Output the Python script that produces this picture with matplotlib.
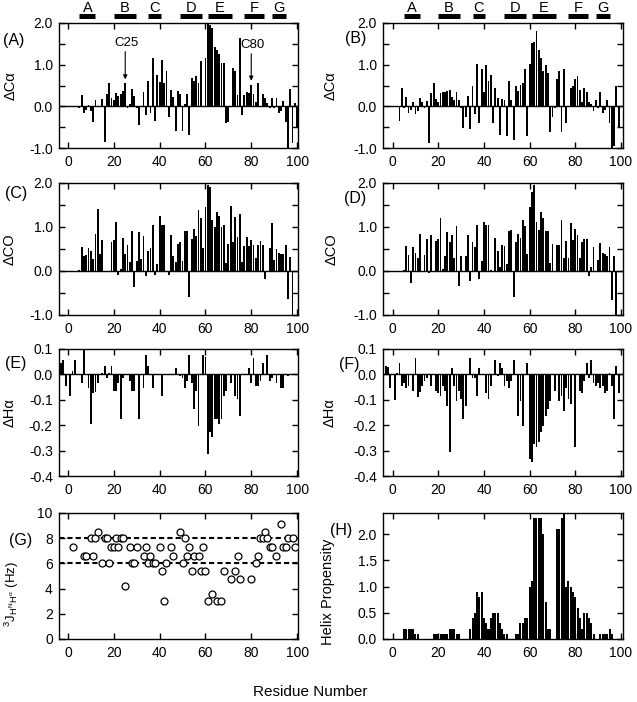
import matplotlib
matplotlib.use('Agg')
import matplotlib.pyplot as plt
import matplotlib.transforms as mtransforms
from matplotlib.ticker import MultipleLocator, FormatStrFormatter

plt.rcParams['font.family'] = ['Liberation Sans', 'DejaVu Sans']
plt.rcParams['mathtext.fontset'] = 'custom'
plt.rcParams['mathtext.rm'] = 'Liberation Sans'
plt.rcParams['mathtext.it'] = 'Liberation Sans'
plt.rcParams['mathtext.bf'] = 'Liberation Sans:bold'
plt.rcParams['axes.unicode_minus'] = False

# ---------------- data ----------------
# Panel A: delta C-alpha (left)
a_res = list(range(5, 13)) + list(range(15, 32)) + list(range(33, 71)) + list(range(72, 101))
a_val = [-0.05, 0.27, -0.15, -0.08, 0.03, -0.1, -0.38, 0.15,
         0.18, -0.85, 0.3, 0.55, 0.2, 0.15, 0.33, 0.25, 0.3, 0.38, 0.55, -0.05, 0.05, 0.42, 0.25, -0.05, -0.45,
         0.35, -0.2, 0.6, -0.15, 1.15, -0.35, 0.75, 0.58, 1.12, 0.55, 0.85, -0.25, 0.4, 0.22, -0.6, 0.38, 0.3,
         -0.6, 0.05, 0.3, -0.68, 0.68, 0.6, 0.72, 0.55, 1.1, 0.0, 1.15, 2.0, 1.95, 1.88, 1.42, 1.35, 1.25,
         1.05, 1.05, -0.4, -0.38,
         0.92, 0.85, 0.28, 1.65, -0.2, 0.27, 0.35, 0.33, 0.52, 0.3, 0.1, 0.55, 0.0, 0.3, 0.2, 0.08, -0.05,
         0.2, -0.05, 0.2, -0.15, -0.12, 0.13, -0.38, -1.0, 0.42, -0.88, 0.08, -0.5]

# Panel B: delta C-alpha (right)
b_res = list(range(3, 77)) + list(range(78, 100))
b_val = [-0.35, 0.43, -0.05, 0.23, -0.15, -0.08, 0.1, -0.18, -0.1, 0.2, 0.1, -0.05, 0.12, -0.87, 0.32,
         0.55, 0.18, 0.1, 0.32, 0.35, 0.35, 0.38, 0.4, 0.22, 0.15, 0.35, 0.15, -0.05, -0.53, -0.25, 0.25,
         -0.55, 0.5, -0.18, 1.02, -0.4, 0.9, 0.35, 1.0, 0.62, 0.75, -0.4, 0.45, 0.2, -0.68, 0.18, 0.15,
         -0.72, 0.6, 0.15, -0.8, 0.5, 0.38, 0.52, 0.55, 0.9, -0.7, 1.02, 1.52, 1.55, 1.8, 1.35, 1.15, 0.85,
         1.0, 0.8, -0.62, -0.25, -0.05, 0.65, 0.85, -0.62, 0.9, -0.4,
         0.45, 0.5, 0.65, 0.72, 0.4, 0.1, 0.45, 0.35, 0.1, 0.05, -0.1, 0.15, -0.05, 0.35, -0.15, -0.08,
         0.15, -0.4, -1.0, -0.95, 0.5, -0.5]

# Panel C: delta CO (left)
c_res = list(range(5, 16)) + list(range(19, 87)) + list(range(88, 99))
c_val = [0.03, 0.55, 0.35, 0.37, 0.52, 0.45, 0.28, 0.85, 1.42, 0.38, 0.7,
         0.67, 0.7, 1.12, -0.1, 0.05, 0.75, 0.38, 0.6, 0.2, 0.92, -0.37, 0.22, 0.88, 0.28, 0.8, -0.12,
         0.45, 0.52, 1.05, -0.1, 0.15, 1.25, 1.05, 1.05, 0.0, -0.08, 0.82, 0.35, 0.2, 0.62, 0.65, 0.22,
         0.92, 0.92, -0.58, 0.72, 0.95, 0.8, 1.38, 1.2, 0.52, 1.45, 1.95, 1.92, 1.15, 1.0, 1.35, 1.25,
         1.0, 1.05, 0.18, 0.62, 1.48, 0.65, 1.22, 0.78, 1.3, 0.2, 0.57, 0.78, 0.57, 0.7, 0.6, 0.3, 0.6,
         0.68, 0.6, -0.18,
         0.52, 1.1, 0.25, 0.5, 0.4, 0.38, 0.38, 0.6, -0.63, 0.32, -1.0]

# Panel D: delta CO (right)
d_res = (list(range(5, 13)) + list(range(14, 18)) + list(range(19, 31)) + list(range(32, 44))
         + list(range(45, 71)) + list(range(72, 89)) + list(range(90, 99)))
d_val = [0.02, 0.56, 0.37, -0.27, 0.55, 0.42, 0.3, 0.83,
         0.37, 0.72, -0.05, 0.82,
         0.68, 0.73, 1.2, 0.05, 0.33, 0.88, 0.67, 0.82, 0.3, 1.03, -0.33, 0.35,
         0.33, 0.82, -0.22, 0.65, 0.55, 1.05, -0.18, 0.23, 1.12, 1.05, 1.05, 0.03,
         0.75, 0.45, 0.1, 0.58, 0.57, 0.15, 0.9, 0.93, -0.58, 0.65, 0.85, 0.75, 1.15, 1.02, 0.38, 1.45,
         1.8, 1.95, 1.12, 0.93, 1.35, 1.2, 0.9, 0.92, 0.18, 0.62,
         0.6, 0.6, 1.15, 0.3, 0.68, 0.3, 1.08, 0.7, 0.95, 0.82, 0.3, 0.65, 0.72, 0.72, -0.12, 0.1, 0.55,
         0.25, 0.63, 0.42, 0.38, 0.35, 0.55, -0.65, 0.33, -1.0]

# Panel E: delta H-alpha (left)
e_res = [-3, -2, -1, 1, 2, 3, 6, 7, 9, 10, 11, 12, 13, 15, 16, 17, 18, 19, 20, 21, 22, 23, 24, 27, 28,
         29, 31, 33, 34, 35, 37, 41, 47, 49, 50, 51, 52, 53, 54, 55, 56, 57, 59, 60, 61, 62, 63, 64, 65,
         66, 67, 68, 69, 71, 73, 74, 75, 79, 80, 81, 82, 83, 84, 85, 87, 88, 89, 91, 93, 94, 96]
e_val = [0.045, 0.055, -0.045, -0.085, 0.015, 0.055, -0.035, 0.1, -0.055, -0.195, -0.075, -0.07, -0.035,
         0.005, 0.035, -0.015, 0.005, 0.035, -0.065, -0.065, -0.035, -0.175, -0.015, -0.025, -0.065,
         -0.065, -0.175, -0.055, 0.075, 0.035, -0.055, -0.085, 0.025, -0.005, -0.015, -0.055, -0.025,
         0.075, -0.035, -0.135, -0.065, -0.205, 0.075, 0.07, -0.315, -0.225, -0.245, -0.175, -0.175,
         -0.195, -0.175, -0.085, -0.065, -0.035, -0.085, -0.095, -0.165, 0.025, -0.035, 0.065, -0.045,
         -0.045, -0.025, 0.045, 0.075, -0.025, -0.015, -0.035, -0.055, -0.055, -0.005]

# Panel F: delta H-alpha (right)
f_res = [-3, -2, -1, 1, 2, 3, 4, 5, 6, 7, 9, 10, 11, 12, 13, 14, 15, 17, 19, 20, 21, 22, 23, 24, 25,
         26, 27, 28, 29, 30, 31, 32, 34, 35, 36, 37, 38, 41, 42, 43, 45, 46, 47, 48, 49, 50, 51, 52, 53,
         55, 56, 57, 59, 60, 61, 62, 63, 64, 65, 66, 67, 68, 69, 71, 73, 74, 75, 76, 77, 78, 80, 82, 83,
         84, 85, 86, 87, 88, 89, 90, 91, 92, 93, 94, 95, 96, 97, 98, 99]
f_val = [0.035, 0.03, -0.055, -0.1, 0.005, 0.045, -0.045, -0.035, -0.055, -0.045, -0.065, 0.065, -0.09,
         -0.07, -0.045, -0.025, -0.015, -0.045, -0.065, -0.075, -0.085, -0.045, -0.065, -0.125, -0.305,
         0.025, -0.045, -0.105, -0.065, -0.095, -0.175, -0.125, 0.065, -0.015, -0.015, -0.085, 0.025,
         -0.075, -0.095, -0.045, 0.055, -0.005, 0.045, 0.025, -0.045, -0.025, -0.055, -0.025, 0.055,
         -0.165, -0.105, -0.205, 0.045, -0.335, -0.345, -0.275, -0.285, -0.265, -0.225, -0.205, -0.165,
         -0.135, -0.105, -0.065, -0.105, -0.085, -0.145, -0.055, -0.095, -0.115, -0.285, -0.065, -0.075,
         -0.025, 0.045, -0.015, 0.055, -0.035, -0.045, -0.035, -0.055, -0.045, -0.075, -0.065, 0.005,
         -0.045, -0.175, 0.035, -0.075]

# Panel G: 3J(HN-Halpha) coupling constants
g_res = [2, 7, 8, 10, 11, 12, 13, 15, 16, 17, 18, 19, 20, 21, 22, 23, 24, 25, 27, 28, 29, 30, 33, 34,
         35, 36, 37, 38, 40, 41, 42, 43, 45, 46, 49, 50, 51, 52, 53, 54, 55, 57, 58, 59, 60, 61, 63, 65,
         67, 68, 71, 73, 74, 75, 80, 82, 83, 84, 85, 86, 87, 88, 89, 91, 93, 94, 95, 96, 98, 99]
g_val = [7.3, 6.6, 6.6, 8.0, 6.6, 8.0, 8.5, 6.0, 8.0, 8.0, 6.0, 7.3, 7.3, 8.0, 7.3, 8.0, 8.0, 4.2, 7.3,
         6.0, 6.0, 7.3, 6.6, 7.3, 6.0, 6.6, 6.0, 6.0, 7.3, 5.4, 3.0, 6.0, 7.3, 6.6, 8.5, 6.0, 8.0, 6.6,
         7.3, 5.4, 6.6, 6.6, 5.4, 7.3, 5.4, 3.0, 3.6, 3.0, 3.0, 5.4, 4.8, 5.4, 6.6, 4.8, 4.8, 6.0, 6.6,
         8.0, 8.0, 8.5, 8.0, 7.3, 7.3, 6.6, 9.1, 7.3, 7.3, 8.0, 8.0, 7.3]
g_lines = [6.0, 8.0]

# Panel H: helix propensity
h_res = (list(range(5, 12)) + list(range(18, 30)) + list(range(34, 51)) + list(range(54, 70))
         + list(range(72, 89)) + list(range(91, 97)))
h_val = [0.2, 0.2, 0.2, 0.2, 0.2, 0.1, 0.1,
         0.1, 0.1, 0.1, 0.1, 0.1, 0.1, 0.1, 0.2, 0.2, 0.2, 0.1, 0.1,
         0.2, 0.4, 0.5, 0.9, 0.8, 0.9, 0.4, 0.3, 0.2, 0.4, 0.5, 0.5, 0.5, 0.3, 0.2, 0.1, 0.1,
         0.1, 0.1, 0.3, 0.3, 0.4, 0.4, 1.0, 1.1, 2.3, 2.3, 2.3, 2.3, 2.0, 0.7, 0.2, 0.2,
         2.1, 2.1, 2.3, 2.4, 1.0, 1.1, 1.0, 0.9, 0.8, 0.6, 0.4, 0.2, 0.5, 0.5, 0.4, 0.3, 0.1,
         0.1, 0.1, 0.1, 0.1, 0.2, 0.1]

# secondary-structure segments drawn above (A) and (B)
seg_names = ['A', 'B', 'C', 'D', 'E', 'F', 'G']
seg_start = [5, 20, 35, 49, 61, 77, 89]
seg_end = [12, 29.5, 40.5, 58.5, 71.5, 85.5, 95]

for r, v in [(a_res, a_val), (b_res, b_val), (c_res, c_val), (d_res, d_val), (e_res, e_val),
             (f_res, f_val), (g_res, g_val), (h_res, h_val)]:
    assert len(r) == len(v), (len(r), len(v))

# ---------------- figure ----------------
W, H = 637, 702
fig = plt.figure(figsize=(W / 100, H / 100), dpi=100)


def ax_at(x0, x1, y0, y1):
    return fig.add_axes([x0 / W, 1 - y1 / H, (x1 - x0) / W, (y1 - y0) / H])


def setup(ax, xlim, ylim, major, minor, fmt):
    ax.set_xlim(*xlim)
    ax.set_ylim(*ylim)
    ax.xaxis.set_major_locator(MultipleLocator(20))
    ax.yaxis.set_major_locator(MultipleLocator(major))
    if minor:
        ax.yaxis.set_minor_locator(MultipleLocator(minor))
    ax.yaxis.set_major_formatter(FormatStrFormatter(fmt))
    ax.tick_params(which='both', direction='in', top=True, right=True, length=4.6, width=1,
                   labelsize=10, pad=4.5)
    ax.tick_params(axis='x', pad=5)
    for s in ax.spines.values():
        s.set_linewidth(1)


def ftext(x, y, s, **kw):
    fig.text(x / W, 1 - y / H, s, ha='center', va='center', **kw)


LX = (-3.9, 100.4)
RX = (-4.2, 100.9)
COLL = (59, 298)
COLR = (383, 623)
ROW1 = (23, 148)
ROW2 = (183, 315)
ROW3 = (349, 476)
ROW4 = (513, 639)

bar_kw = dict(width=0.8, color='black', linewidth=0)

axA = ax_at(*COLL, *ROW1)
axA.bar(a_res, a_val, **bar_kw)
axB = ax_at(*COLR, *ROW1)
axB.bar(b_res, b_val, **bar_kw)
axC = ax_at(*COLL, *ROW2)
axC.bar(c_res, c_val, **bar_kw)
axD = ax_at(*COLR, *ROW2)
axD.bar(d_res, d_val, **bar_kw)
axE = ax_at(*COLL, *ROW3)
axE.bar(e_res, e_val, **bar_kw)
axF = ax_at(*COLR, *ROW3)
axF.bar(f_res, f_val, **bar_kw)
axG = ax_at(*COLL, *ROW4)
axG.plot(g_res, g_val, linestyle='none', marker='o', markersize=5.0, markerfacecolor='white',
         markeredgecolor='black', markeredgewidth=0.9, zorder=3)
for yl in g_lines:
    axG.axhline(yl, color='black', lw=1.5, linestyle=(0, (2.5, 1.5)), zorder=2)
axH = ax_at(*COLR, *ROW4)
axH.bar(h_res, h_val, width=0.88, color='black', linewidth=0)

for ax, xl in [(axA, LX), (axB, RX), (axC, LX), (axD, RX)]:
    setup(ax, xl, (-1.0, 2.0), 1.0, 0.5, '%.1f')
    ax.axhline(0, color='black', lw=1)
for ax, xl in [(axE, LX), (axF, RX)]:
    setup(ax, xl, (-0.4, 0.1), 0.1, None, '%.1f')
    ax.axhline(0, color='black', lw=1)
setup(axG, LX, (0, 10), 2, None, '%d')
setup(axH, RX, (0, 2.4), 0.5, None, '%.1f')

# C25 / C80 annotations
axA.text(25.5, 1.52, 'C25', ha='center', va='center', fontsize=9.5)
axA.annotate('', xy=(25, 0.58), xytext=(25, 1.38),
             arrowprops=dict(arrowstyle='-|>', lw=0.8, color='black', mutation_scale=6))
axA.text(80.5, 1.47, 'C80', ha='center', va='center', fontsize=9.5)
axA.annotate('', xy=(80, 0.55), xytext=(80, 1.33),
             arrowprops=dict(arrowstyle='-|>', lw=0.8, color='black', mutation_scale=6))

# segment bars above top row
for ax in (axA, axB):
    tr = mtransforms.blended_transform_factory(ax.transData, fig.transFigure)
    for n, s0, s1 in zip(seg_names, seg_start, seg_end):
        ax.plot([s0, s1], [1 - 15.7 / H] * 2, transform=tr, color='black', lw=3.6,
                solid_capstyle='butt', clip_on=False)
        ax.text((s0 + s1) / 2, 1 - 7.5 / H, n, transform=tr, ha='center', va='center',
                fontsize=10.5)

# panel letters
for s, x, y in [('(A)', 14, 40), ('(B)', 356, 38), ('(C)', 16, 193), ('(D)', 355, 199),
                ('(E)', 16, 363), ('(F)', 349, 365), ('(G)', 21, 540), ('(H)', 341, 531)]:
    ftext(x, y, s, fontsize=11.5)

# y labels
for s, x, y in [('ΔCα', 11, 86), ('ΔCα', 331, 86), ('ΔCO', 10, 249), ('ΔCO', 332, 249),
                ('ΔHα', 10, 413), ('ΔHα', 330, 413), ('Helix Propensity', 328, 592)]:
    ftext(x, y, s, fontsize=10.5, rotation=90)
ftext(12, 594, r'$^{3}J_{H^{N}H^{\alpha}}$ (Hz)', fontsize=9.5, rotation=90)

ftext(310, 692, 'Residue Number', fontsize=11)

fig.savefig('out.png', dpi=100)
